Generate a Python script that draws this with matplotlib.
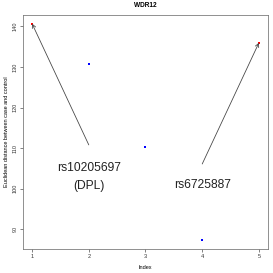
import matplotlib
matplotlib.use("Agg")
import matplotlib.pyplot as plt

plt.rcParams['font.family'] = ['Liberation Sans', 'DejaVu Sans']

index = [1, 2, 3, 4, 5]
distance = [140.65, 130.6, 110.35, 87.3, 135.95]
colors = ['red', 'blue', 'blue', 'blue', 'red']

labels = ['rs10205697\n(DPL)', 'rs6725887']
label_xy = [(2, 102.9), (4, 101.0)]
arrow_from = [(2, 110.8), (4, 106.1)]
arrow_to = [0, 4]

fig = plt.figure(figsize=(273 / 72, 273 / 72), dpi=72)
ax = fig.add_axes([23 / 273, 24 / 273, 245 / 273, 234 / 273])

ax.scatter(index, distance, c=colors, s=4, marker='s', linewidths=0, zorder=3)

for (fx, fy), k in zip(arrow_from, arrow_to):
    ax.annotate('', xy=(index[k], distance[k]), xytext=(fx, fy),
                arrowprops=dict(arrowstyle='->', color='#444444', lw=0.8,
                                shrinkA=0, shrinkB=0, mutation_scale=9))
for lab, (tx, ty) in zip(labels, label_xy):
    ax.text(tx, ty, lab, ha='center', va='center', fontsize=12,
            linespacing=1.75, color='#222222')

lo, hi = min(distance), max(distance)
pad = 0.04 * (hi - lo)
ax.set_ylim(lo - pad, hi + pad)
ax.set_xlim(1 - 0.16, 5 + 0.16)
ax.set_xticks(index)
ax.set_yticks([90, 100, 110, 120, 130, 140])
ax.tick_params(labelsize=5.5, length=3, width=0.6, colors='#333333', pad=2)
for t in ax.get_yticklabels():
    t.set_rotation(90)
    t.set_va('center')
for s in ax.spines.values():
    s.set_linewidth(0.8)
    s.set_color('#777777')

ax.set_xlabel('Index', fontsize=5.5, labelpad=6)
ax.set_ylabel('Euclidean distance between case and control', fontsize=5.5, labelpad=4)
ax.set_title('WDR12', fontsize=6.5, fontweight='bold', pad=8)

fig.savefig('out.png', dpi=72)
